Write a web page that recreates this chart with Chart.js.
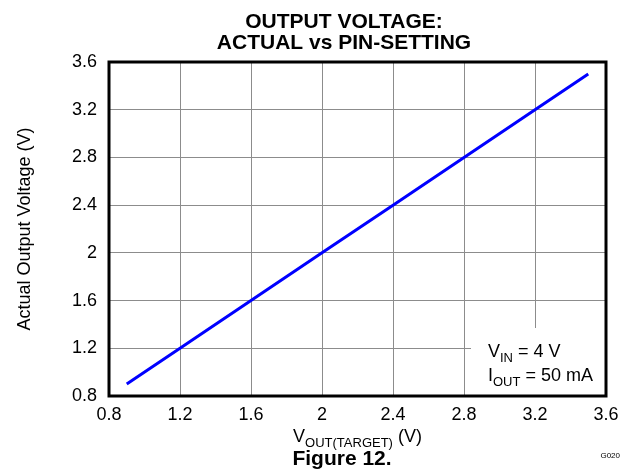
<!DOCTYPE html>
<html>
<head>
<meta charset="utf-8">
<script src="https://cdn.jsdelivr.net/npm/chart.js@4"></script>
<style>
  html, body { margin: 0; padding: 0; background: #fff; }
  #wrap { width: 629px; height: 476px; }
</style>
</head>
<body>
<div id="wrap"><canvas id="grafico" width="629" height="476"></canvas></div>
<script>
// dados
const vOutTarget = [0.9, 1.2, 1.6, 2.0, 2.4, 2.8, 3.2, 3.5];
const vOutActual = [0.9, 1.2, 1.6, 2.0, 2.4, 2.8, 3.2, 3.5];
const tickValues = [0.8, 1.2, 1.6, 2, 2.4, 2.8, 3.2, 3.6];
const tickLabels = ['0.8', '1.2', '1.6', '2', '2.4', '2.8', '3.2', '3.6'];

const FONT = '"Liberation Sans", Arial, sans-serif';

function setTicks(scale) {
  scale.ticks = tickValues.map(v => ({ value: v }));
}

// texto com subscrito: partes [texto, sub?]
function drawRich(ctx, parts, x, y, size, subSize, align) {
  let total = 0;
  parts.forEach(p => {
    ctx.font = (p[1] ? subSize : size) + 'px ' + FONT;
    total += ctx.measureText(p[0]).width;
  });
  let cx = align === 'center' ? x - total / 2 : x;
  ctx.textAlign = 'left';
  ctx.textBaseline = 'alphabetic';
  parts.forEach(p => {
    ctx.font = (p[1] ? subSize : size) + 'px ' + FONT;
    ctx.fillText(p[0], cx, p[1] ? y + 5 : y);
    cx += ctx.measureText(p[0]).width;
  });
}

const decoracao = {
  id: 'decoracao',
  beforeDatasetsDraw(chart) {
    const ctx = chart.ctx;
    const { right, bottom } = chart.chartArea;
    ctx.save();
    ctx.fillStyle = '#fff';
    ctx.fillRect(471, 328, right - 471, bottom - 328);
    ctx.restore();
  },
  afterDraw(chart) {
    const ctx = chart.ctx;
    const { left, top, right, bottom } = chart.chartArea;
    ctx.save();
    ctx.strokeStyle = '#000';
    ctx.lineWidth = 3;
    ctx.strokeRect(left, top, right - left, bottom - top);

    ctx.fillStyle = '#000';
    ctx.textAlign = 'center';
    ctx.textBaseline = 'alphabetic';
    ctx.font = 'bold 21px ' + FONT;
    ctx.fillText('OUTPUT VOLTAGE:', 344, 28);
    ctx.fillText('ACTUAL vs PIN-SETTING', 344, 49);
    ctx.fillText('Figure 12.', 342, 465);

    drawRich(ctx, [['V'], ['OUT(TARGET)', true], [' (V)']], (left + right) / 2, 442, 18, 13, 'center');

    drawRich(ctx, [['V'], ['IN', true], [' = 4 V']], 488, 357, 18, 13, 'left');
    drawRich(ctx, [['I'], ['OUT', true], [' = 50 mA']], 488, 381, 18, 13, 'left');

    ctx.font = '8px ' + FONT;
    ctx.textAlign = 'right';
    ctx.fillText('G020', 620, 458);
    ctx.restore();
  }
};

new Chart(document.getElementById('grafico'), {
  type: 'line',
  data: {
    labels: vOutTarget,
    datasets: [{
      data: vOutTarget.map((x, i) => ({ x: x, y: vOutActual[i] })),
      borderColor: '#0000ff',
      borderWidth: 3,
      pointRadius: 0,
      tension: 0,
      fill: false
    }]
  },
  options: {
    responsive: false,
    animation: false,
    layout: { padding: { left: 0, top: 62, right: 23, bottom: 50 } },
    plugins: { legend: { display: false }, tooltip: { enabled: false }, title: { display: false } },
    scales: {
      x: {
        type: 'linear',
        min: 0.8,
        max: 3.6,
        afterBuildTicks: setTicks,
        afterFit: s => { s.height = 30; },
        grid: { color: '#8c8c8c', lineWidth: 1, drawTicks: false },
        border: { display: false },
        ticks: {
          padding: 8,
          color: '#000',
          font: { family: FONT, size: 18 },
          maxRotation: 0,
          callback: (v, i) => tickLabels[i]
        }
      },
      y: {
        type: 'linear',
        min: 0.8,
        max: 3.6,
        afterBuildTicks: setTicks,
        afterFit: s => { s.width = 109; },
        grid: { color: '#8c8c8c', lineWidth: 1, drawTicks: false },
        border: { display: false },
        title: {
          display: true,
          text: 'Actual Output Voltage (V)',
          color: '#000',
          font: { family: FONT, size: 18 },
          padding: { top: 14, bottom: 0 }
        },
        ticks: {
          padding: 12,
          color: '#000',
          font: { family: FONT, size: 18 },
          callback: (v, i) => tickLabels[i]
        }
      }
    }
  },
  plugins: [decoracao]
});
</script>
</body>
</html>
